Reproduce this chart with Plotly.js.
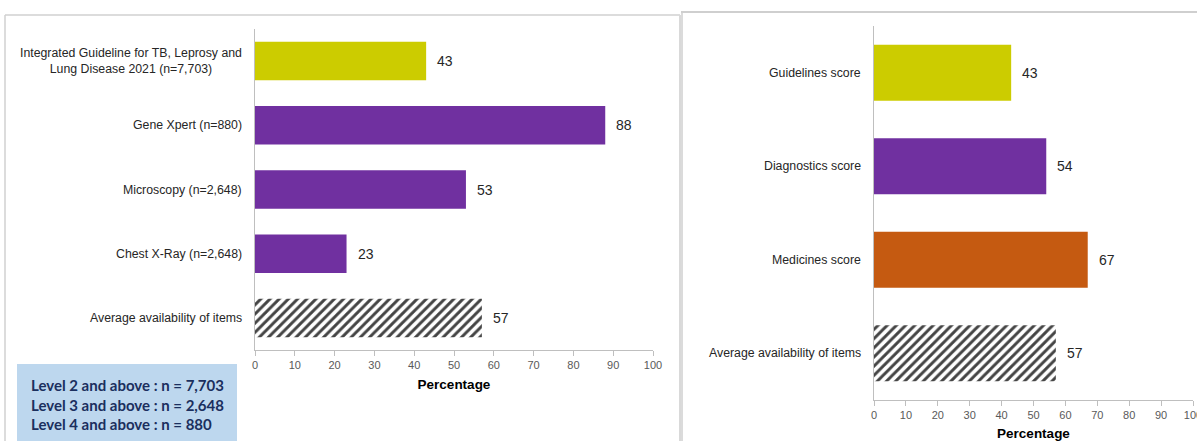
<!DOCTYPE html>
<html>
<head>
<meta charset="utf-8">
<script src="https://cdn.plot.ly/plotly-3.0.1.min.js"></script>
<style>
  html, body { margin: 0; padding: 0; background: #ffffff; overflow: hidden; }
  #chart { width: 1197px; height: 441px; }
</style>
</head>
<body>
<div id="chart"></div>
<script>
// Left panel: availability of individual TB items (%)
const itemLabels = [
  'Integrated Guideline for TB, Leprosy and<br>Lung Disease 2021 (n=7,703)',
  'Gene Xpert (n=880)',
  'Microscopy (n=2,648)',
  'Chest X-Ray (n=2,648)',
  'Average availability of items'
];
const itemValues = [43, 88, 53, 23, 57];

// Right panel: domain scores (%)
const scoreLabels = [
  'Guidelines score',
  'Diagnostics score',
  'Medicines score',
  'Average availability of items'
];
const scoreValues = [43, 54, 67, 57];

// Sample sizes by facility level
const sampleNotes = [
  'Level 2 and above : n = 7,703',
  'Level 3 and above : n = 2,648',
  'Level 4 and above : n = 880'
];

const xTickValues = [0, 10, 20, 30, 40, 50, 60, 70, 80, 90, 100];

const W = 1197, H = 441;
const px = x => x / W;
const py = y => 1 - y / H;

const YELLOW = '#CCCC00', PURPLE = '#7030A0', ORANGE = '#C55A11';
const itemColors = [YELLOW, PURPLE, PURPLE, PURPLE, '#ffffff'];
const scoreColors = [YELLOW, PURPLE, ORANGE, '#ffffff'];
// the last bar of each panel (the average) is hatched
const hatchOf = n => Array.from({length: n}, (_, i) => i === n - 1 ? '/' : '');

const FONT = 'Liberation Sans, Arial, sans-serif';

function barTrace(labels, values, colors, xa, ya) {
  return {
    type: 'bar', orientation: 'h',
    y: labels, x: values,
    xaxis: xa, yaxis: ya,
    width: 0.6,
    marker: {
      color: colors,
      line: {width: 0},
      pattern: {
        shape: hatchOf(values.length),
        fillmode: 'overlay',
        fgcolor: '#444444',
        fgopacity: 1,
        size: 6.5,
        solidity: 0.45
      }
    },
    hoverinfo: 'skip',
    showlegend: false
  };
}

// numeric value to the right of each bar
function valueLabels(values, xref, yref) {
  return values.map((v, i) => ({
    x: v, y: i, xref: xref, yref: yref,
    text: String(v), showarrow: false,
    xanchor: 'left', xshift: 9,
    font: {family: FONT, size: 14, color: '#262626'}
  }));
}

// category names left of the axis, centred when wrapped
function categoryLabels(labels, xref, yref) {
  return labels.map((t, i) => ({
    x: 0, y: i, xref: xref, yref: yref,
    text: t, showarrow: false,
    xanchor: 'right', xshift: -11, align: 'center',
    font: {family: FONT, size: 12.3, color: '#262626'}
  }));
}

const xAxisCommon = {
  range: [0, 100], tickvals: xTickValues, ticks: 'outside', ticklen: 5,
  tickcolor: '#bfbfbf', showline: true, linecolor: '#bfbfbf', linewidth: 1,
  showgrid: false, zeroline: false, fixedrange: true,
  ticklabeloverflow: 'allow',
  tickfont: {family: FONT, size: 11, color: '#595959'},
  title: {text: '<b>Percentage</b>', font: {family: FONT, size: 13.5, color: '#000000'}, standoff: 9}
};
const yAxisCommon = {
  type: 'category', showline: true, linecolor: '#bfbfbf', linewidth: 1,
  ticks: '', showgrid: false, zeroline: false, fixedrange: true,
  showticklabels: false
};

const data = [
  barTrace(itemLabels, itemValues, itemColors, 'x', 'y'),
  barTrace(scoreLabels, scoreValues, scoreColors, 'x2', 'y2')
];

const line = (x0, y0, x1, y1, color, w) => ({
  type: 'line', xref: 'paper', yref: 'paper',
  x0: px(x0), y0: py(y0), x1: px(x1), y1: py(y1),
  line: {color: color, width: w}
});

const shapes = [
  // panel frames
  line(5, 15, 680, 15, '#d0d0d0', 1.5),
  line(5, 15, 5, 441, '#d0d0d0', 1.5),
  line(680, 15, 680, 441, '#d9d9d9', 2),
  line(681, 12, 1197, 12, '#bfbfbf', 1.5),
  line(682, 12, 682, 441, '#cfcfcf', 1.5),
  // sample size box
  {type: 'rect', xref: 'paper', yref: 'paper',
   x0: px(17), x1: px(237), y0: py(441), y1: py(364),
   fillcolor: '#BDD7EE', line: {width: 0}}
];

const noteAnnotations = sampleNotes.map((t, i) => ({
  xref: 'paper', yref: 'paper', x: px(29), y: py(385 + i * 19.5),
  xanchor: 'left', yanchor: 'middle', showarrow: false,
  text: '<b>' + t + '</b>',
  font: {family: 'Lato, Noto Sans, sans-serif', size: 15, color: '#1B2F5E'}
}));

const layout = {
  width: W, height: H,
  margin: {l: 0, r: 0, t: 0, b: 0},
  paper_bgcolor: '#ffffff', plot_bgcolor: 'rgba(0,0,0,0)',
  xaxis: Object.assign({}, xAxisCommon, {domain: [px(255), px(653)], anchor: 'y'}),
  yaxis: Object.assign({}, yAxisCommon, {domain: [py(350), py(29)], range: [4.5, -0.5], anchor: 'x'}),
  xaxis2: Object.assign({}, xAxisCommon, {domain: [px(874), px(1193)], anchor: 'y2'}),
  yaxis2: Object.assign({}, yAxisCommon, {domain: [py(400), py(26)], range: [3.5, -0.5], anchor: 'x2'}),
  shapes: shapes,
  annotations: categoryLabels(itemLabels, 'x', 'y')
    .concat(categoryLabels(scoreLabels, 'x2', 'y2'))
    .concat(valueLabels(itemValues, 'x', 'y'))
    .concat(valueLabels(scoreValues, 'x2', 'y2'))
    .concat(noteAnnotations)
};

Plotly.newPlot('chart', data, layout, {displayModeBar: false, staticPlot: true});
</script>
</body>
</html>
